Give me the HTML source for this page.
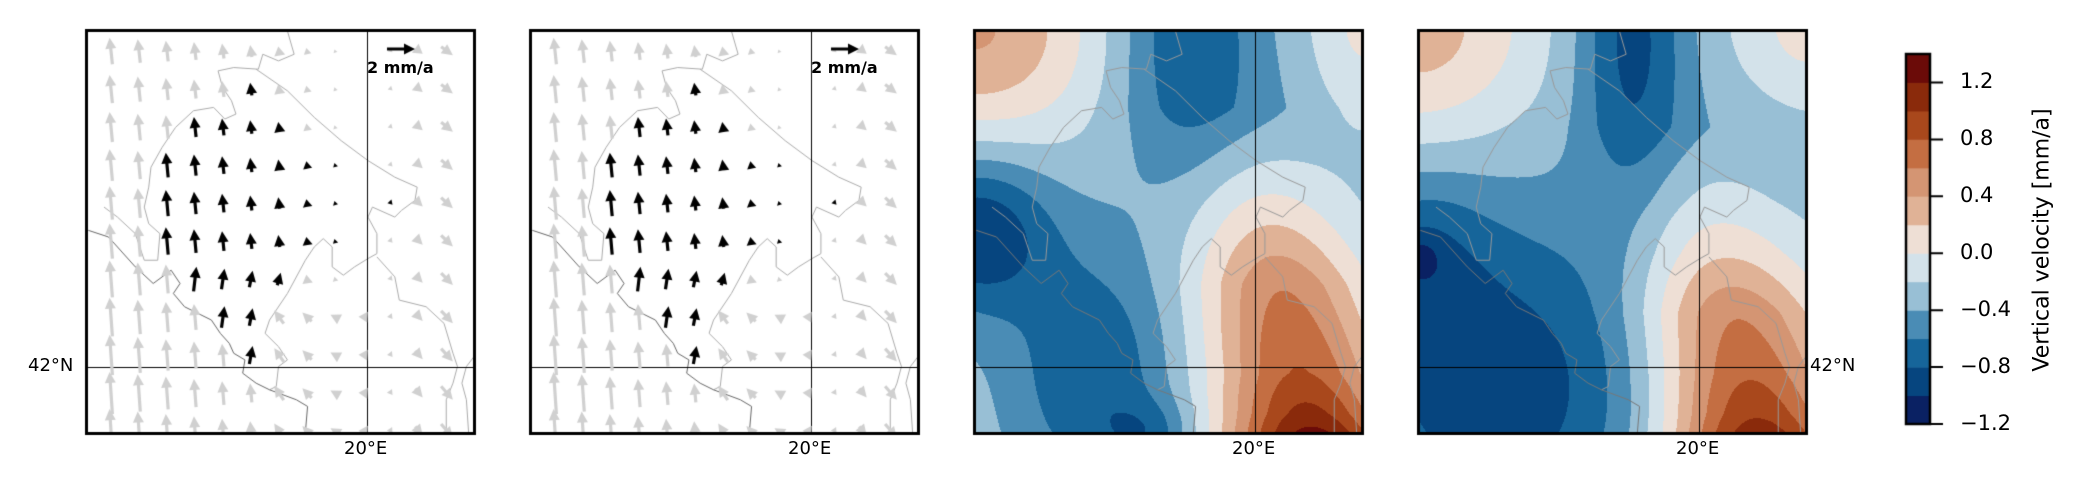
<!DOCTYPE html>
<html><head><meta charset="utf-8"><style>
html,body{margin:0;padding:0;background:#fff;}
body{width:2086px;height:488px;position:relative;overflow:hidden;font-family:"DejaVu Sans","Liberation Sans",sans-serif;}
canvas{position:absolute;left:0;top:0;}
.t{position:absolute;font-size:18px;color:#000;white-space:nowrap;}
.cb{position:absolute;font-size:21px;color:#000;white-space:nowrap;}
</style></head><body>
<canvas id="c" width="2086" height="488"></canvas>
<div class="t" style="left:28px;top:355px;">42°N</div>
<div class="t" style="left:1810px;top:355px;">42°N</div>
<div class="t" style="left:344px;top:438px;">20°E</div>
<div class="t" style="left:788px;top:438px;">20°E</div>
<div class="t" style="left:1232px;top:438px;">20°E</div>
<div class="t" style="left:1676px;top:438px;">20°E</div>
<div class="t" style="left:367px;top:58px;font-size:16px;font-weight:bold;">2 mm/a</div>
<div class="t" style="left:811px;top:58px;font-size:16px;font-weight:bold;">2 mm/a</div>
<div class="cb" style="left:1960px;top:69px;">1.2</div>
<div class="cb" style="left:1960px;top:126px;">0.8</div>
<div class="cb" style="left:1960px;top:183px;">0.4</div>
<div class="cb" style="left:1960px;top:240px;">0.0</div>
<div class="cb" style="left:1960px;top:297px;">−0.4</div>
<div class="cb" style="left:1960px;top:354px;">−0.8</div>
<div class="cb" style="left:1960px;top:411px;">−1.2</div>
<div class="cb" style="left:2042px;top:240px;font-size:22px;transform:translate(-50%,-50%) rotate(-90deg);">Vertical velocity [mm/a]</div>
<script>
const c=document.getElementById('c'),x=c.getContext('2d');
const PX=[87,531,975,1419],PT=31,PW=387,PH=402;
const cols=['#0a2163','#06457f','#16659a','#4a8cb5','#98bfd5','#d3e2ea','#eedfd5','#e0b296','#d49573','#c46e42','#a9481c','#8a2a0b','#6b0b08'];
function g(u,v,cu,cv,su,sv){const a=(u-cu)/su,b=(v-cv)/sv;return Math.exp(-(a*a+b*b)/2);}
function pl(v,P){if(v<=P[0][0]){const k=(P[1][1]-P[0][1])/(P[1][0]-P[0][0]);return Math.max(0,P[0][1]+k*(v-P[0][0]));}
 for(let i=1;i<P.length;i++)if(v<=P[i][0]){const t=(v-P[i-1][0])/(P[i][0]-P[i-1][0]);return P[i-1][1]+t*(P[i][1]-P[i-1][1]);}return P[P.length-1][1];}
const A3=[[.2,.02],[.35,.3],[.5,.62],[.63,.9],[.85,1.1],[.95,1.35],[1,1.55]];
const A4=[[.25,.02],[.42,.28],[.55,.55],[.7,.95],[.85,1.12],[.95,1.3],[1,1.45]];
function peak(u,v,A,su){const cu=0.87-0.22*(1-v);const a=(u-cu)/su;return pl(v,A)*Math.exp(-a*a/2);}
function f3(u,v){
return -0.28+0.7*g(u,v,0,0,.22,.2)+0.35*g(u,v,1,0,.1,.2)-0.5*g(u,v,.55,0,.13,.3)-0.72*g(u,v,0,.5,.14,.14)-0.5*g(u,v,.3,.85,.15,.22)-0.3*g(u,v,.45,1,.08,.06)-0.12*g(u,v,.9,.3,.2,.2)+peak(u,v,A3,.16);}
function f4(u,v){
return -0.25+0.55*g(u,v,0,0,.2,.2)+0.35*g(u,v,1,0,.13,.15)-0.6*g(u,v,.55,0,.1,.3)-0.68*g(u,v,.2,.88,.33,.32)-0.3*g(u,v,0,.55,.12,.15)-0.2*g(u,v,0,.56,.04,.04)-0.12*g(u,v,.9,.3,.2,.2)+peak(u,v,A4,.17);}
function field(px,fn){const im=x.createImageData(PW,PH);
 const rgb=cols.map(h=>[parseInt(h.substr(1,2),16),parseInt(h.substr(3,2),16),parseInt(h.substr(5,2),16)]);
 for(let j=0;j<PH;j++)for(let i=0;i<PW;i++){const val=fn(i/PW,j/PH);let k=Math.floor((val+1.2)/0.2);k=Math.max(0,Math.min(12,k));const o=(j*PW+i)*4;im.data[o]=rgb[k][0];im.data[o+1]=rgb[k][1];im.data[o+2]=rgb[k][2];im.data[o+3]=255;}
 x.putImageData(im,px,PT);}
field(PX[2],f3);field(PX[3],f4);
const L=[
[[640,90],[655,160],[620,180],[585,160],[575,205],[520,200],[485,210],[495,260],[515,300],[525,340],[500,355],[475,320],[430,330],[390,380],[360,440],[335,500],[330,560],[320,620],[330,670],[355,700],[350,780],[320,780],[300,700],[260,650],[230,620]],
[[570,205],[640,270],[700,350],[760,420],[820,480],[880,530],[930,560],[925,600],[895,630],[880,650],[830,620],[820,650],[840,700],[840,760],[820,775],[790,800],[765,825],[740,800],[740,740],[720,715],[700,740],[680,780],[640,880],[600,960],[590,1000],[620,1040],[640,1080],[620,1100],[615,1160],[600,1170]],
[[840,770],[880,830],[890,900],[950,920],[990,970],[1010,1060],[1020,1100],[1010,1150],[995,1200],[995,1300]],
[[1057,1070],[1040,1100],[1030,1150],[1040,1200],[1045,1300]]];
const C=[[[195,690],[240,710],[300,800],[340,850],[380,810],[400,850],[385,880],[410,920],[440,940],[470,960],[490,1000],[510,1030],[520,1060],[545,1080],[540,1120],[570,1150],[600,1170],[620,1180],[660,1200],[685,1220],[680,1300]]];
function mp(px,p){return [px+(p[0]-192)/865*PW,PT+(p[1]-90)/1210*PH];}
function lines(px,col,coastcol){x.save();x.beginPath();x.rect(px,PT,PW,PH);x.clip();x.lineWidth=1;
 for(const [set,cc] of [[L,col],[C,coastcol]]){x.strokeStyle=cc;for(const l of set){x.beginPath();l.forEach((p,i)=>{const q=mp(px,p);i?x.lineTo(q[0],q[1]):x.moveTo(q[0],q[1]);});x.stroke();}}
 x.strokeStyle='#000';x.lineWidth=1;x.beginPath();x.moveTo(px,367.5);x.lineTo(px+PW,367.5);x.moveTo(px+280.5,PT);x.lineTo(px+280.5,PT+PH);x.stroke();x.restore();}
function arrow(x0,y0,dx,dy,col){const Lh=Math.hypot(dx,dy);if(Lh<1.5)return;const ux=dx/Lh,uy=dy/Lh,nx=-uy,ny=ux;
 const hl=Math.min(Lh,11),hw=Math.min(5.5,5.5*Lh/9),sw=1.6;
 const tx=x0+dx,ty=y0+dy,bx=tx-ux*hl,by=ty-uy*hl;x.fillStyle=col;x.beginPath();
 x.moveTo(x0+nx*sw,y0+ny*sw);x.lineTo(bx+nx*sw,by+ny*sw);x.lineTo(bx+nx*hw,by+ny*hw);x.lineTo(tx,ty);x.lineTo(bx-nx*hw,by-ny*hw);x.lineTo(bx-nx*sw,by-ny*sw);x.lineTo(x0-nx*sw,y0-ny*sw);x.closePath();x.fill();}
const black={1:[6],2:[4,5,6,7],3:[3,4,5,6,7,8,9,10],4:[3,4,5,6,7,8,9,10,11],5:[3,4,5,6,7,8,9,10],6:[4,5,6,7],7:[5,6],8:[6]};
function quiv(px){x.save();x.beginPath();x.rect(px,PT,PW,PH);x.clip();
 for(let r=0;r<11;r++)for(let cI=0;cI<14;cI++){const X=px+24+(cI-1)*28,Y=PT+20+r*38;const u=(X-px)/PW,v=(Y-PT)/PH;
  let vy=-(1-u/0.72)*(28+20*v);let vx=-3*(1-u)+(u>0.72?16*(u-0.72)/0.28:0)+(u>0.45&&u<0.72&&v>0.7?-8:0);
  const bl=black[r]&&black[r].includes(cI);
  if(bl&&r>=6){vx+=5;}
  const tx=X-vx*0.5,ty=Y-vy*0.5;
  arrow(tx,ty,vx,vy,bl?'#000':'#d0d0d0');}
 x.restore();}
for(const i of [0,1]){lines(PX[i],'#aaa','#666');quiv(PX[i]);arrow(PX[i]+300,49,28,0,'#000');}
for(const i of [2,3]){lines(PX[i],'#999','#777');}
x.lineWidth=3;x.strokeStyle='#000';for(const p of PX)x.strokeRect(p-0.5,PT-0.5,PW+1,PH+1);
const cx0=1906,cy0=54,cw=24,ch=370;
for(let k=0;k<13;k++){x.fillStyle=cols[k];x.fillRect(cx0,cy0+ch-(k+1)*ch/13,cw,ch/13+0.5);}
x.lineWidth=2.5;x.strokeRect(cx0,cy0,cw,ch);
x.lineWidth=2;x.beginPath();for(let k=0;k<=12;k+=2){const y=cy0+ch-k*ch/13;x.moveTo(cx0+cw,y);x.lineTo(cx0+cw+13,y);}x.stroke();
</script>
</body></html>
